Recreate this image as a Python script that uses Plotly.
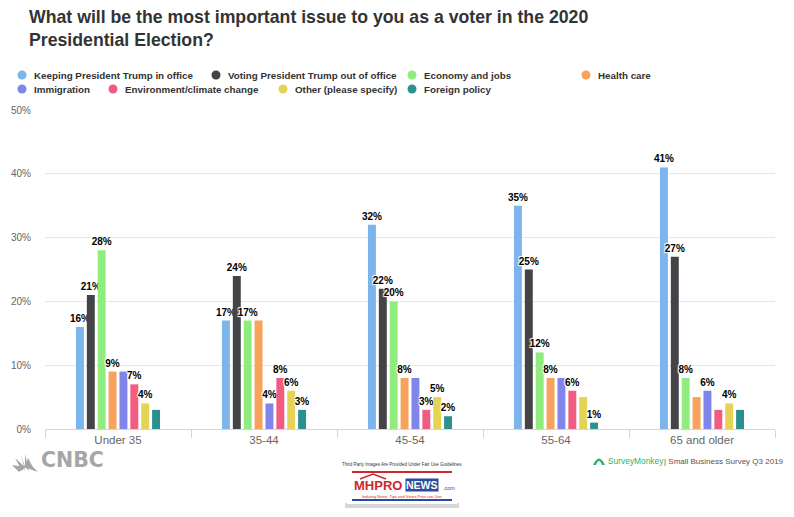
import plotly.graph_objects as go

# ---------------- data ----------------
categories = ["Under 35", "35-44", "45-54", "55-64", "65 and older"]

series_names = [
    "Keeping President Trump in office",
    "Voting President Trump out of office",
    "Economy and jobs",
    "Health care",
    "Immigration",
    "Environment/climate change",
    "Other (please specify)",
    "Foreign policy",
]

keep_trump = [16, 17, 32, 35, 41]
vote_out = [21, 24, 22, 25, 27]
economy = [28, 17, 20, 12, 8]
health_care = [9, 17, 8, 8, 5]
immigration = [9, 4, 8, 8, 6]
environment = [7, 8, 3, 6, 3]
other = [4, 6, 5, 5, 4]
foreign_policy = [3, 3, 2, 1, 3]

# which data labels are visible in the original (1 = shown)
keep_lbl = [1, 1, 1, 1, 1]
vote_lbl = [1, 1, 1, 1, 1]
economy_lbl = [1, 1, 1, 1, 1]
health_lbl = [1, 0, 1, 1, 0]
immigration_lbl = [0, 1, 0, 0, 1]
environment_lbl = [1, 1, 1, 1, 0]
other_lbl = [1, 1, 1, 0, 1]
foreign_lbl = [0, 1, 1, 1, 0]

y_ticks = [0, 10, 20, 30, 40, 50]

colors = ["#7cb5ec", "#434348", "#90ed7d", "#f7a35c",
          "#8085e9", "#f15c80", "#e4d354", "#2b908f"]

values = [keep_trump, vote_out, economy, health_care,
          immigration, environment, other, foreign_policy]
labels = [keep_lbl, vote_lbl, economy_lbl, health_lbl,
          immigration_lbl, environment_lbl, other_lbl, foreign_lbl]

# ---------------- geometry helpers (layout only) ----------------
W, H = 794, 517
ML, MR, MT, MB = 45, 19, 110, 88
PW, PH = W - ML - MR, H - MT - MB


def px(x):
    return (x - ML) / PW


def py(y):
    return (H - MB - y) / PH


FONT = "Liberation Sans, Arial, Helvetica, sans-serif"

fig = go.Figure()
for name, vals, lbl, col in zip(series_names, values, labels, colors):
    fig.add_trace(go.Bar(
        x=categories, y=vals, name=name,
        marker=dict(color=col, line=dict(width=0)),
        text=[f"{v}%" if s else "" for v, s in zip(vals, lbl)],
        textposition="outside",
        constraintext="none",
        cliponaxis=False,
        textfont=dict(family=FONT, size=10, color="#000000",
                      weight="bold",
                      shadow="1px 1px 1px #fff, -1px -1px 1px #fff, 1px -1px 1px #fff, -1px 1px 1px #fff"),
        hoverinfo="skip",
    ))

annotations = []
shapes = []

# title
annotations.append(dict(
    xref="paper", yref="paper", x=px(27), y=py(5), xanchor="left", yanchor="top",
    align="left", showarrow=False,
    text="<b>What will be the most important issue to you as a voter in the 2020<br>Presidential Election?</b>",
    font=dict(family=FONT, size=17.7, color="#333333"),
))

# custom legend (two rows, free flowing like the original)
legend_pos = [(22, 75), (216, 75), (412, 75), (586, 75),
              (22, 89), (113, 89), (283, 89), (412, 89)]
for name, col, (lx, ly) in zip(series_names, colors, legend_pos):
    r = 4.5
    shapes.append(dict(type="circle", xref="paper", yref="paper",
                       x0=px(lx - r), x1=px(lx + r), y0=py(ly + r), y1=py(ly - r),
                       fillcolor=col, line=dict(width=0)))
    annotations.append(dict(xref="paper", yref="paper", x=px(lx + 10), y=py(ly),
                            xanchor="left", yanchor="middle", showarrow=False,
                            text=f"<b>{name}</b>",
                            font=dict(family=FONT, size=9.8, color="#333333")))

# CNBC logo (approximation)
annotations.append(dict(xref="paper", yref="paper", x=px(39), y=py(460),
                        xanchor="left", yanchor="middle", showarrow=False,
                        text="<b>CNBC</b>",
                        font=dict(family="DejaVu Sans, sans-serif", size=20.5, color="#a6a6a6")))
cx, cy = 25, 467
for dx0, dy0, dx1, dy1 in [(-13, -2, -6, 5), (-10, -9, -3, 4), (-4, -13, 0, 4),
                           (0, -13, 4, 4), (3, -9, 10, 4), (6, -2, 13, 5)]:
    shapes.append(dict(type="path", xref="paper", yref="paper",
                       path=f"M {px(cx)},{py(cy)} L {px(cx+dx0)},{py(cy+dy0)} L {px(cx+dx1)},{py(cy+dy1)} Z",
                       fillcolor="#a6a6a6", line=dict(width=0)))

# SurveyMonkey credit
shapes.append(dict(type="path", xref="paper", yref="paper",
                   path=f"M {px(593)},{py(465)} Q {px(599)},{py(452)} {px(605)},{py(465)} L {px(602)},{py(465)} Q {px(599)},{py(457)} {px(596)},{py(465)} Z",
                   fillcolor="#2fb36b", line=dict(width=0)))
annotations.append(dict(xref="paper", yref="paper", x=px(606), y=py(461),
                        xanchor="left", yanchor="middle", showarrow=False,
                        text="SurveyMonkey",
                        font=dict(family=FONT, size=8.4, color="#2fb36b")))
annotations.append(dict(xref="paper", yref="paper", x=px(786), y=py(461),
                        xanchor="right", yanchor="middle", showarrow=False,
                        text="| Small Business Survey Q3 2019",
                        font=dict(family=FONT, size=8, color="#555555")))

# MHProNews watermark (approximation)
shapes.append(dict(type="rect", xref="paper", yref="paper",
                   x0=px(345), x1=px(459), y0=py(508), y1=py(503),
                   fillcolor="#bdbdbd", opacity=0.6, line=dict(width=0)))
shapes.append(dict(type="rect", xref="paper", yref="paper",
                   x0=px(347), x1=px(457), y0=py(504), y1=py(468),
                   fillcolor="#ffffff", line=dict(width=0)))
shapes.append(dict(type="line", xref="paper", yref="paper",
                   x0=px(352), x1=px(452), y0=py(472), y1=py(472),
                   line=dict(color="#d0262d", width=2)))
shapes.append(dict(type="line", xref="paper", yref="paper",
                   x0=px(352), x1=px(452), y0=py(500), y1=py(500),
                   line=dict(color="#2a4d9b", width=2)))
shapes.append(dict(type="path", xref="paper", yref="paper",
                   path=f"M {px(360)},{py(479)} L {px(373)},{py(474)} L {px(386)},{py(479)}",
                   line=dict(color="#d0262d", width=1.5)))
annotations.append(dict(xref="paper", yref="paper", x=px(402), y=py(464),
                        xanchor="center", yanchor="middle", showarrow=False,
                        text="Third Party Images Are Provided Under Fair Use Guidelines.",
                        font=dict(family=FONT, size=4.5, color="#333333")))
annotations.append(dict(xref="paper", yref="paper", x=px(404), y=py(485),
                        xanchor="right", yanchor="middle", showarrow=False,
                        text="<b>MHPRO</b>",
                        font=dict(family=FONT, size=13, color="#d0262d")))
annotations.append(dict(xref="paper", yref="paper", x=px(405), y=py(485),
                        xanchor="left", yanchor="middle", showarrow=False,
                        text="<b>NEWS</b>", bgcolor="#2a4d9b", borderpad=0,
                        font=dict(family=FONT, size=10.5, color="#ffffff")))
annotations.append(dict(xref="paper", yref="paper", x=px(457), y=py(488),
                        xanchor="right", yanchor="middle", showarrow=False,
                        text=".com",
                        font=dict(family=FONT, size=5.5, color="#2a4d9b")))
annotations.append(dict(xref="paper", yref="paper", x=px(402), y=py(496),
                        xanchor="center", yanchor="middle", showarrow=False,
                        text="Industry News, Tips and Views Pros can Use.",
                        font=dict(family=FONT, size=4, color="#d0262d")))

fig.update_layout(
    width=W, height=H,
    margin=dict(l=ML, r=MR, t=MT, b=MB, pad=0),
    paper_bgcolor="#ffffff", plot_bgcolor="#ffffff",
    barmode="group", bargap=0.404, bargroupgap=0.27,
    showlegend=False,
    font=dict(family=FONT, color="#666666"),
    annotations=annotations, shapes=shapes,
    xaxis=dict(
        type="category", showgrid=False, zeroline=False,
        showline=True, linecolor="#ccd6eb", linewidth=1,
        ticks="outside", tickson="boundaries", ticklen=8, tickcolor="#ccd6eb",
        tickfont=dict(family=FONT, size=11.5, color="#666666"),
        fixedrange=True,
    ),
    yaxis=dict(
        range=[0, 50], tickvals=y_ticks,
        ticktext=[f"{t}%" for t in y_ticks],
        showgrid=True, gridcolor="#e6e6e6", gridwidth=1,
        zeroline=False, showline=False, ticks="",
        ticklabelstandoff=13,
        tickfont=dict(family=FONT, size=10, color="#666666"),
        fixedrange=True,
    ),
)

fig.write_html("out.html")
